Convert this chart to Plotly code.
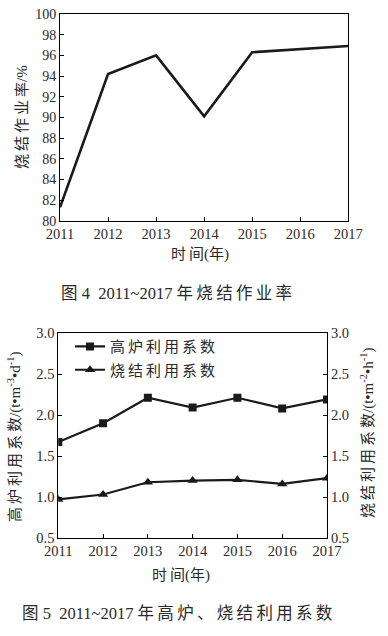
import re
import plotly.graph_objects as go

years = [2011, 2012, 2013, 2014, 2015, 2016, 2017]
sinter_rate = [81.3, 94.2, 96.0, 90.1, 96.3, 96.6, 96.9]
bf_coef = [1.67, 1.90, 2.21, 2.09, 2.21, 2.08, 2.19]
sinter_coef = [0.97, 1.03, 1.18, 1.20, 1.21, 1.16, 1.23]
rate_ticks = list(range(80, 101, 2))
coef_ticks = [0.5, 1.0, 1.5, 2.0, 2.5, 3.0]
coef_tick_labels = ["0.5", "1.0", "1.5", "2.0", "2.5", "3.0"]

W, H = 388, 636
FONT = "Liberation Serif, Noto Sans CJK SC, serif"
TXT = "#2a2a2a"
LINE = "#1a1a1a"


def sp(s):
    # add a thin space between consecutive CJK characters
    return re.sub(r"([\u3000-\u9fff\uff00-\uffef])(?=[\u3000-\u9fff\uff00-\uffef])", "\\1\u2009", s)


def px(xp, yp):
    return xp / W, 1 - yp / H


fig = go.Figure()

fig.add_trace(go.Scatter(x=years, y=sinter_rate, mode="lines",
                         line=dict(color=LINE, width=2.6),
                         xaxis="x", yaxis="y", showlegend=False))
fig.add_trace(go.Scatter(x=years, y=bf_coef, mode="lines+markers", name=sp("高炉利用系数"),
                         line=dict(color=LINE, width=2.2),
                         marker=dict(symbol="square", size=8, color=LINE),
                         xaxis="x2", yaxis="y2", legend="legend"))
fig.add_trace(go.Scatter(x=years, y=sinter_coef, mode="lines+markers", name=sp("烧结利用系数"),
                         line=dict(color=LINE, width=2.2),
                         marker=dict(symbol="triangle-up", size=9, color=LINE),
                         xaxis="x2", yaxis="y3", legend="legend2"))

axis_common = dict(showline=True, linecolor="black", linewidth=1, ticks="inside",
                   ticklen=4, tickwidth=1, tickcolor="black", showgrid=False,
                   zeroline=False, automargin=False,
                   tickfont=dict(family=FONT, size=14.5, color=TXT))

x0, y_top = px(60, 14)
x1, y_bot = px(348.3, 220.7)
bx0, by_top = px(58.3, 333)
bx1, by_bot = px(327, 538)

fig.update_layout(
    template="none",
    width=W, height=H, margin=dict(l=0, r=0, t=0, b=0, autoexpand=False),
    paper_bgcolor="white", plot_bgcolor="white",
    font=dict(family=FONT, color=TXT),
    xaxis=dict(axis_common, domain=[x0, x1], anchor="y", range=[2011, 2017],
               tickvals=years, mirror=True),
    yaxis=dict(axis_common, domain=[y_bot, y_top], anchor="x", range=[80, 100],
               tickvals=rate_ticks, mirror=True, tickfont=dict(family=FONT, size=14, color=TXT)),
    xaxis2=dict(axis_common, domain=[bx0, bx1], anchor="y2", range=[2011, 2017],
                tickvals=years, mirror=True),
    yaxis2=dict(axis_common, domain=[by_bot, by_top], anchor="x2", range=[0.5, 3.0],
                tickvals=coef_ticks, ticktext=coef_tick_labels),
    yaxis3=dict(axis_common, overlaying="y2", side="right", anchor="x2", range=[0.5, 3.0],
                tickvals=coef_ticks, ticktext=coef_tick_labels),
    legend=dict(x=px(70, 0)[0], y=px(0, 346.7)[1], xanchor="left", yanchor="middle",
                bgcolor="rgba(0,0,0,0)", font=dict(family=FONT, size=15, color=TXT)),
    legend2=dict(x=px(70, 0)[0], y=px(0, 370)[1], xanchor="left", yanchor="middle",
                 bgcolor="rgba(0,0,0,0)", font=dict(family=FONT, size=15, color=TXT)),
)

annotations = [
    (22, 117, sp("烧结作业率") + "/%", -90, 15),
    (200, 255, sp("时间(年)"), 0, 15),
    (176, 293, "图 4  2011~2017 " + sp("年烧结作业率"), 0, 16.5),
    (14, 437, sp("高炉利用系数") + "/(t•m<sup>-3</sup>•d<sup>-1</sup>)", -90, 15),
    (367, 433, sp("烧结利用系数") + "/(t•m<sup>-2</sup>•h<sup>-1</sup>)", -90, 15),
    (181, 575, sp("时间(年)"), 0, 15),
    (177, 613, "图 5  2011~2017 " + sp("年高炉、烧结利用系数"), 0, 16.5),
]
for xp, yp, text, ang, size in annotations:
    ax, ay = px(xp, yp)
    fig.add_annotation(x=ax, y=ay, xref="paper", yref="paper", text=text, showarrow=False,
                       textangle=ang, xanchor="center", yanchor="middle",
                       font=dict(family=FONT, size=size, color=TXT))

fig.write_html("out.html", config={"displayModeBar": False},
               post_script="document.body.style.margin='0';document.body.style.padding='0';")
